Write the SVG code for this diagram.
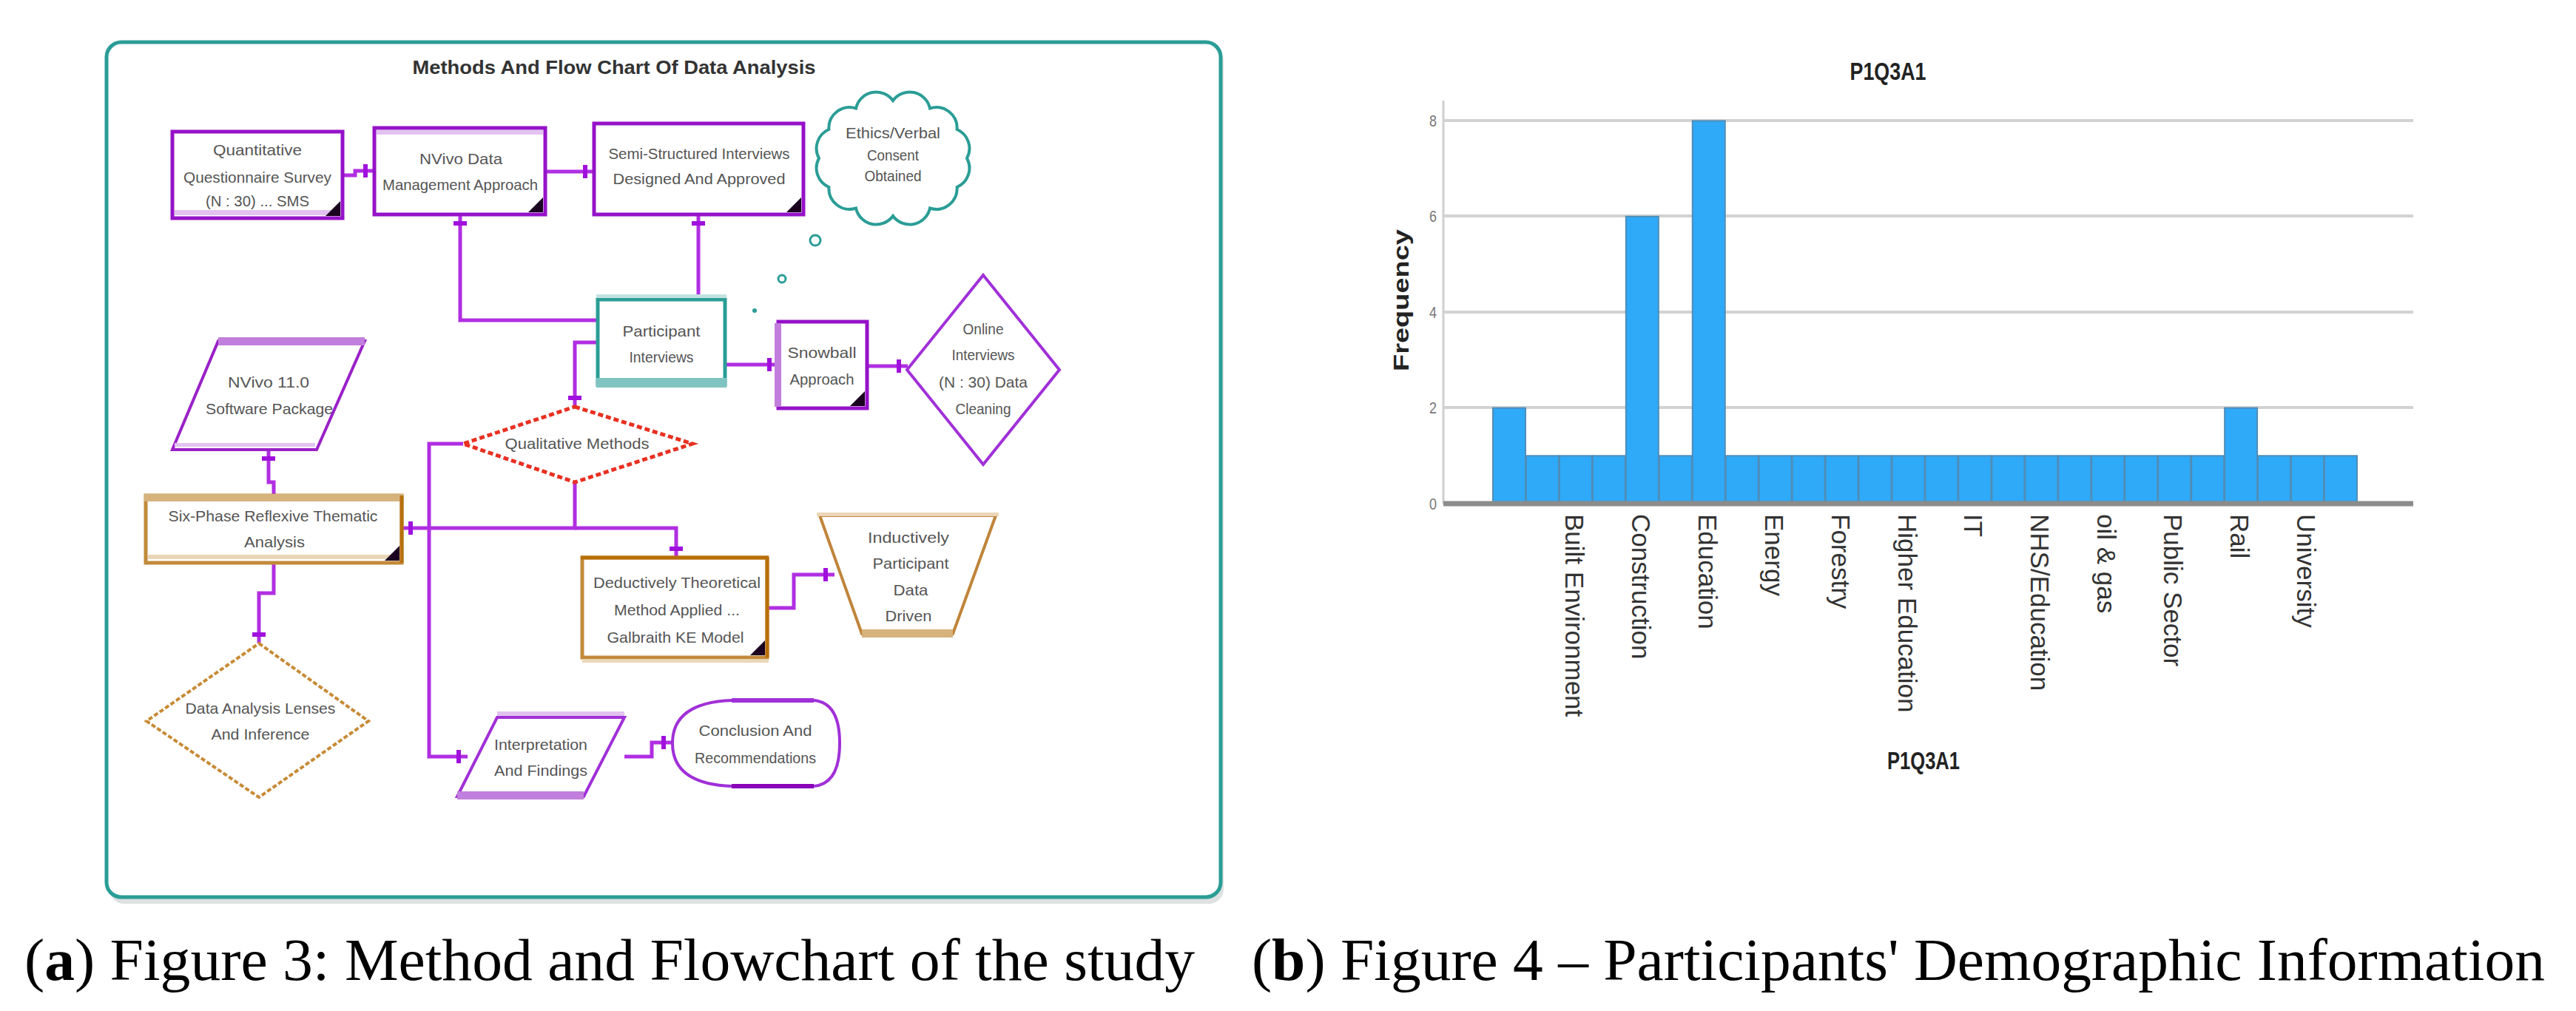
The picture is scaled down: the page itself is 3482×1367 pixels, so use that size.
<svg xmlns="http://www.w3.org/2000/svg" width="3482" height="1367" viewBox="0 0 3482 1367">
<defs>
<marker id="xbar" viewBox="0 0 20 24" refX="20" refY="12" markerWidth="20" markerHeight="24" markerUnits="userSpaceOnUse" orient="auto"><rect x="5" y="3" width="6" height="18" fill="#a010dc"/></marker>
<style>
.t{font-family:"Liberation Sans Narrow","Liberation Sans",Arial,sans-serif;font-size:21px;fill:#555;text-anchor:middle}
.conn{fill:none;stroke:#b02ee2;stroke-width:5;marker-end:url(#xbar)}
.pur{fill:#fff;stroke:#9512c8;stroke-width:5}
.tan{fill:#fff;stroke:#c28a3a;stroke-width:5}
.corner{fill:#1a0220}
.bar{fill:#2eaaf9;stroke:#4f8db8;stroke-width:2}
.grid{stroke:#d2d2d2;stroke-width:4}
.xl{font-family:"Liberation Sans",Arial,sans-serif;font-size:35px;fill:#333}
.tick{font-family:"Liberation Sans",Arial,sans-serif;font-size:22px;fill:#777;text-anchor:middle}
.cap{font-family:"Liberation Serif","Times New Roman",serif;font-size:80px;fill:#000}
</style>
</defs>
<rect width="3482" height="1367" fill="#fff"/>

<!-- frame -->
<g id="frame">
<rect x="148" y="62" width="1506" height="1160" rx="20" fill="#dde1e1"/>
<rect x="144" y="57" width="1506" height="1156" rx="20" fill="#fff" stroke="#2a9d96" stroke-width="5"/>
<text x="830" y="100" textLength="545" lengthAdjust="spacingAndGlyphs" style="font-family:'Liberation Sans',Arial,sans-serif;font-size:25px;font-weight:bold;fill:#333;text-anchor:middle">Methods And Flow Chart Of Data Analysis</text>
</g>

<!-- connectors -->
<g id="connectors">
<path class="conn" d="M463,237 H480 V231 H506"/>
<path class="conn" d="M737,232 H803"/>
<path class="conn" d="M808,433 H622 V290"/>
<path class="conn" d="M944,405 V290"/>
<path class="conn" d="M808,463 H777 V550"/>
<path class="conn" d="M980,493 H1052"/>
<path class="conn" d="M1172,495 H1227"/>
<path class="conn" d="M626,600 H580 V1023 H632"/>
<path class="conn" d="M777,652 V714 H543"/>
<path class="conn" d="M777,714 H914 V754"/>
<path class="conn" d="M370,670 V652 H363 V608"/>
<path class="conn" d="M370,761 V802 H350 V870"/>
<path class="conn" d="M1037,822 H1073 V777 H1128"/>
<path class="conn" d="M844,1023 H881 V1004 H909"/>
</g>

<g id="n-questionnaire">
<rect class="pur" x="233" y="178" width="230" height="117"/>
<rect x="236" y="284" width="224" height="7" fill="#e2c2ef"/>
<polygon class="corner" points="460,272 460,292 440,292"/>
<text class="t" x="348" y="210" textLength="120" lengthAdjust="spacingAndGlyphs">Quantitative</text>
<text class="t" x="348" y="247" textLength="200" lengthAdjust="spacingAndGlyphs">Questionnaire Survey</text>
<text class="t" x="348" y="279" textLength="140" lengthAdjust="spacingAndGlyphs">(N : 30) ... SMS</text>
</g>

<g id="n-nvivo-data">
<rect class="pur" x="506" y="173" width="231" height="117"/>
<rect x="509" y="176" width="225" height="6" fill="#e2c2ef"/>
<polygon class="corner" points="734,267 734,287 714,287"/>
<text class="t" x="623" y="222" textLength="112" lengthAdjust="spacingAndGlyphs">NVivo Data</text>
<text class="t" x="622" y="257" textLength="210" lengthAdjust="spacingAndGlyphs">Management Approach</text>
</g>

<g id="n-semi">
<rect class="pur" x="803" y="167" width="283" height="123"/>
<polygon class="corner" points="1083,267 1083,287 1063,287"/>
<text class="t" x="945" y="215" textLength="245" lengthAdjust="spacingAndGlyphs">Semi-Structured Interviews</text>
<text class="t" x="945" y="249" textLength="233" lengthAdjust="spacingAndGlyphs">Designed And Approved</text>
</g>

<g id="n-ethics">
<path d="M1307,214 A28,28 0 0 1 1293.6,253 A28,28 0 0 1 1257,281.5 A28,28 0 0 1 1207,292 A28,28 0 0 1 1157,281.5 A28,28 0 0 1 1120.4,253 A28,28 0 0 1 1107,214 A28,28 0 0 1 1120.4,175 A28,28 0 0 1 1157,146.5 A28,28 0 0 1 1207,136 A28,28 0 0 1 1257,146.5 A28,28 0 0 1 1293.6,175 A28,28 0 0 1 1307,214 Z" fill="#fff" stroke="#2a9d96" stroke-width="4"/>
<circle cx="1102" cy="325" r="7" fill="#fff" stroke="#2a9d96" stroke-width="3"/>
<circle cx="1057" cy="377" r="5" fill="#fff" stroke="#2a9d96" stroke-width="3"/>
<circle cx="1020" cy="420" r="3" fill="#2a9d96"/>
<text class="t" x="1207" y="187" textLength="128" lengthAdjust="spacingAndGlyphs">Ethics/Verbal</text>
<text class="t" x="1207" y="217" textLength="70" lengthAdjust="spacingAndGlyphs">Consent</text>
<text class="t" x="1207" y="245" textLength="77" lengthAdjust="spacingAndGlyphs">Obtained</text>
</g>

<g id="n-participant">
<rect x="808" y="405" width="172" height="115" fill="#fff" stroke="#2a9d96" stroke-width="5"/>
<rect x="806" y="398" width="176" height="5" fill="#c2e2e0"/>
<rect x="806" y="511" width="176" height="13" fill="#7fc4c0"/>
<text class="t" x="894" y="455" textLength="105" lengthAdjust="spacingAndGlyphs">Participant</text>
<text class="t" x="894" y="490" textLength="87" lengthAdjust="spacingAndGlyphs">Interviews</text>
</g>

<g id="n-snowball">
<rect class="pur" x="1052" y="435" width="120" height="117"/>
<rect x="1047" y="437" width="9" height="113" fill="#c27edc"/>
<polygon class="corner" points="1169,529 1169,549 1149,549"/>
<text class="t" x="1111" y="484" textLength="93" lengthAdjust="spacingAndGlyphs">Snowball</text>
<text class="t" x="1111" y="520" textLength="87" lengthAdjust="spacingAndGlyphs">Approach</text>
</g>

<g id="n-online">
<polygon points="1329,372 1432,500 1329,628 1226,500" fill="#fff" stroke="#a030d8" stroke-width="4"/>
<text class="t" x="1329" y="452" textLength="55" lengthAdjust="spacingAndGlyphs">Online</text>
<text class="t" x="1329" y="487" textLength="85" lengthAdjust="spacingAndGlyphs">Interviews</text>
<text class="t" x="1329" y="524" textLength="120" lengthAdjust="spacingAndGlyphs">(N : 30) Data</text>
<text class="t" x="1329" y="560" textLength="75" lengthAdjust="spacingAndGlyphs">Cleaning</text>
</g>

<g id="n-nvivo11">
<polygon points="295,461 493,461 428,608 233,608" fill="#fff" stroke="#9a20c8" stroke-width="4"/>
<rect x="295" y="456" width="198" height="11" fill="#c27edc"/>
<rect x="236" y="599" width="190" height="5" fill="#e2c2ef"/>
<text class="t" x="363" y="524" textLength="110" lengthAdjust="spacingAndGlyphs">NVivo 11.0</text>
<text class="t" x="364" y="560" textLength="172" lengthAdjust="spacingAndGlyphs">Software Package</text>
</g>

<g id="n-qualitative">
<polygon points="777,550 936,600 777,652 626,600" fill="#fff" stroke="#e83020" stroke-width="5" stroke-dasharray="7 4"/>
<text class="t" x="780" y="607" textLength="195" lengthAdjust="spacingAndGlyphs">Qualitative Methods</text>
</g>

<g id="n-sixphase">
<rect class="tan" x="197" y="670" width="346" height="91"/>
<rect x="195" y="668" width="350" height="10" fill="#d6b27c"/>
<rect x="200" y="750" width="340" height="6" fill="#ead6b8"/>
<line x1="543" y1="670" x2="543" y2="761" stroke="#b87010" stroke-width="5"/>
<polygon class="corner" points="540,738 540,758 520,758"/>
<text class="t" x="369" y="705" textLength="283" lengthAdjust="spacingAndGlyphs">Six-Phase Reflexive Thematic</text>
<text class="t" x="371" y="740" textLength="82" lengthAdjust="spacingAndGlyphs">Analysis</text>
</g>

<g id="n-deductive">
<rect class="tan" x="787" y="754" width="250" height="135"/>
<line x1="785" y1="754" x2="1039" y2="754" stroke="#b86e08" stroke-width="5"/>
<line x1="1037" y1="754" x2="1037" y2="889" stroke="#b86e08" stroke-width="5"/>
<rect x="787" y="891" width="252" height="5" fill="#ead6b8"/>
<polygon class="corner" points="1034,866 1034,886 1014,886"/>
<text class="t" x="915" y="795" textLength="226" lengthAdjust="spacingAndGlyphs">Deductively Theoretical</text>
<text class="t" x="915" y="832" textLength="170" lengthAdjust="spacingAndGlyphs">Method Applied ...</text>
<text class="t" x="913" y="869" textLength="185" lengthAdjust="spacingAndGlyphs">Galbraith KE Model</text>
</g>

<g id="n-inductive">
<polygon points="1108,697 1346,697 1288,857 1165,857" fill="#fff" stroke="#c0843a" stroke-width="4"/>
<rect x="1104" y="693" width="246" height="5" fill="#ead6b8"/>
<rect x="1165" y="851" width="123" height="11" fill="#d6b27c"/>
<text class="t" x="1228" y="734" textLength="110" lengthAdjust="spacingAndGlyphs">Inductively</text>
<text class="t" x="1231" y="769" textLength="103" lengthAdjust="spacingAndGlyphs">Participant</text>
<text class="t" x="1231" y="805" textLength="47" lengthAdjust="spacingAndGlyphs">Data</text>
<text class="t" x="1228" y="840" textLength="63" lengthAdjust="spacingAndGlyphs">Driven</text>
</g>

<g id="n-dataanalysis">
<polygon points="350,870 498,975 350,1078 198,975" fill="#fff" stroke="#c88a35" stroke-width="4" stroke-dasharray="6 3"/>
<text class="t" x="352" y="965" textLength="203" lengthAdjust="spacingAndGlyphs">Data Analysis Lenses</text>
<text class="t" x="352" y="1000" textLength="133" lengthAdjust="spacingAndGlyphs">And Inference</text>
</g>

<g id="n-interpretation">
<polygon points="672,970 844,970 789,1077 618,1077" fill="#fff" stroke="#a030d8" stroke-width="4"/>
<rect x="672" y="962" width="172" height="6" fill="#e2c2ef"/>
<rect x="618" y="1070" width="171" height="11" fill="#c27edc"/>
<text class="t" x="731" y="1014" textLength="126" lengthAdjust="spacingAndGlyphs">Interpretation</text>
<text class="t" x="731" y="1049" textLength="126" lengthAdjust="spacingAndGlyphs">And Findings</text>
</g>

<g id="n-conclusion">
<path d="M989,947 H1100 Q1135,950 1135,1005 Q1135,1060 1100,1063 H989 Q909,1060 909,1005 Q909,950 989,947 Z" fill="#fff" stroke="#a030d8" stroke-width="4"/>
<rect x="989" y="944" width="111" height="6" fill="#a030d8"/>
<rect x="989" y="1060" width="111" height="6" fill="#8a00b8"/>
<text class="t" x="1021" y="995" textLength="153" lengthAdjust="spacingAndGlyphs">Conclusion And</text>
<text class="t" x="1021" y="1032" textLength="164" lengthAdjust="spacingAndGlyphs">Recommendations</text>
</g>

<!-- chart (b) -->
<g id="chart">
<text x="2552" y="108" textLength="103" lengthAdjust="spacingAndGlyphs" style="font-family:'Liberation Sans',Arial,sans-serif;font-size:34px;font-weight:bold;fill:#222;text-anchor:middle">P1Q3A1</text>
<line x1="1951" y1="136" x2="1951" y2="681" stroke="#cfcfcf" stroke-width="3"/>
<line class="grid" x1="1951" y1="163" x2="3262" y2="163"/>
<line class="grid" x1="1951" y1="292" x2="3262" y2="292"/>
<line class="grid" x1="1951" y1="422" x2="3262" y2="422"/>
<line class="grid" x1="1951" y1="551" x2="3262" y2="551"/>
<text class="tick" x="1937" y="171" textLength="10" lengthAdjust="spacingAndGlyphs">8</text>
<text class="tick" x="1937" y="300" textLength="10" lengthAdjust="spacingAndGlyphs">6</text>
<text class="tick" x="1937" y="430" textLength="10" lengthAdjust="spacingAndGlyphs">4</text>
<text class="tick" x="1937" y="559" textLength="10" lengthAdjust="spacingAndGlyphs">2</text>
<text class="tick" x="1937" y="689" textLength="10" lengthAdjust="spacingAndGlyphs">0</text>
<text transform="translate(1904,406) rotate(-90)" textLength="192" lengthAdjust="spacingAndGlyphs" style="font-family:'Liberation Sans',Arial,sans-serif;font-size:29px;font-weight:bold;fill:#222;text-anchor:middle">Frequency</text>
<g id="bars">
<rect class="bar" x="2018" y="551.6" width="44" height="127"/>
<rect class="bar" x="2062.96" y="616.3" width="44" height="62"/>
<rect class="bar" x="2107.92" y="616.3" width="44" height="62"/>
<rect class="bar" x="2152.88" y="616.3" width="44" height="62"/>
<rect class="bar" x="2197.84" y="292.8" width="44" height="386"/>
<rect class="bar" x="2242.8" y="616.3" width="44" height="62"/>
<rect class="bar" x="2287.76" y="163.4" width="44" height="515"/>
<rect class="bar" x="2332.72" y="616.3" width="44" height="62"/>
<rect class="bar" x="2377.68" y="616.3" width="44" height="62"/>
<rect class="bar" x="2422.64" y="616.3" width="44" height="62"/>
<rect class="bar" x="2467.6" y="616.3" width="44" height="62"/>
<rect class="bar" x="2512.56" y="616.3" width="44" height="62"/>
<rect class="bar" x="2557.52" y="616.3" width="44" height="62"/>
<rect class="bar" x="2602.48" y="616.3" width="44" height="62"/>
<rect class="bar" x="2647.44" y="616.3" width="44" height="62"/>
<rect class="bar" x="2692.4" y="616.3" width="44" height="62"/>
<rect class="bar" x="2737.36" y="616.3" width="44" height="62"/>
<rect class="bar" x="2782.32" y="616.3" width="44" height="62"/>
<rect class="bar" x="2827.28" y="616.3" width="44" height="62"/>
<rect class="bar" x="2872.24" y="616.3" width="44" height="62"/>
<rect class="bar" x="2917.2" y="616.3" width="44" height="62"/>
<rect class="bar" x="2962.16" y="616.3" width="44" height="62"/>
<rect class="bar" x="3007.12" y="551.6" width="44" height="127"/>
<rect class="bar" x="3052.08" y="616.3" width="44" height="62"/>
<rect class="bar" x="3097.04" y="616.3" width="44" height="62"/>
<rect class="bar" x="3142" y="616.3" width="44" height="62"/>
</g>
<line x1="1951" y1="681" x2="3262" y2="681" stroke="#8c8c8c" stroke-width="7"/>
<g id="xlabels">
<text class="xl" transform="translate(2116,695) rotate(90)">Built Environment</text>
<text class="xl" transform="translate(2206,695) rotate(90)">Construction</text>
<text class="xl" transform="translate(2296,695) rotate(90)">Education</text>
<text class="xl" transform="translate(2386,695) rotate(90)">Energy</text>
<text class="xl" transform="translate(2476,695) rotate(90)">Forestry</text>
<text class="xl" transform="translate(2566,695) rotate(90)">Higher Education</text>
<text class="xl" transform="translate(2655,695) rotate(90)">IT</text>
<text class="xl" transform="translate(2745,695) rotate(90)">NHS/Education</text>
<text class="xl" transform="translate(2835,695) rotate(90)">oil &amp; gas</text>
<text class="xl" transform="translate(2925,695) rotate(90)">Public Sector</text>
<text class="xl" transform="translate(3015,695) rotate(90)">Rail</text>
<text class="xl" transform="translate(3105,695) rotate(90)">University</text>
</g>
<text x="2600" y="1040" textLength="98" lengthAdjust="spacingAndGlyphs" style="font-family:'Liberation Sans',Arial,sans-serif;font-size:34px;font-weight:bold;fill:#222;text-anchor:middle">P1Q3A1</text>
</g>

<!-- captions -->
<g id="captions">
<text class="cap" x="33" y="1325" textLength="1582" lengthAdjust="spacingAndGlyphs">(<tspan font-weight="bold">a</tspan>) Figure 3: Method and Flowchart of the study</text>
<text class="cap" x="1692" y="1325" textLength="1748" lengthAdjust="spacingAndGlyphs">(<tspan font-weight="bold">b</tspan>) Figure 4 – Participants' Demographic Information</text>
</g>
</svg>
